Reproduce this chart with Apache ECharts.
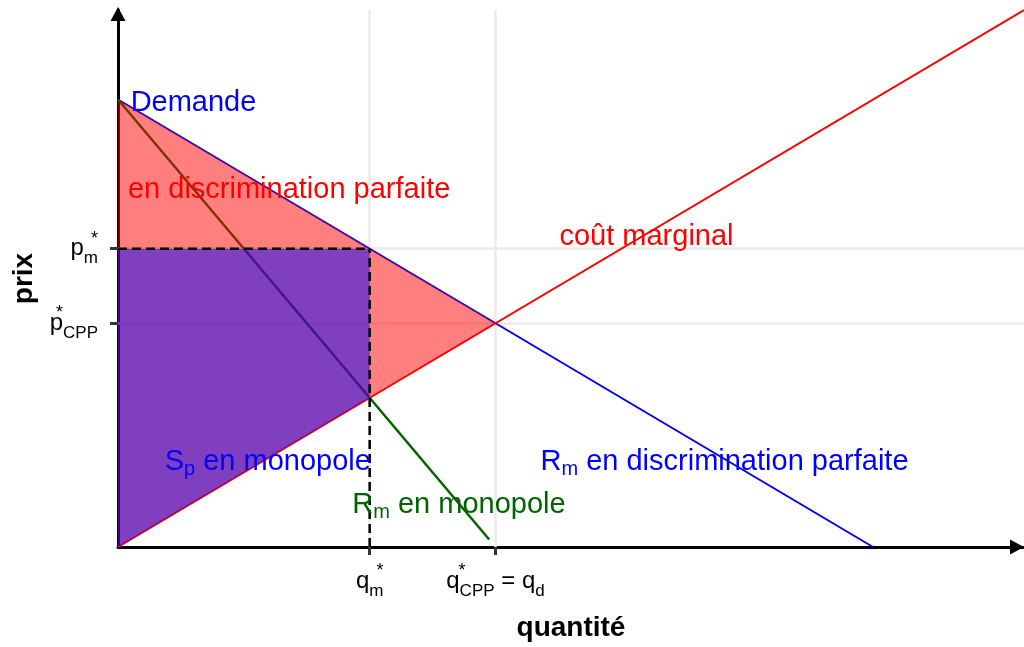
<!DOCTYPE html>
<html>
<head>
<meta charset="utf-8">
<title>Monopole et discrimination parfaite</title>
<script src="https://cdn.jsdelivr.net/npm/echarts@6/dist/echarts.min.js"></script>
<style>
    html, body { margin: 0; padding: 0; background: #fff; }
    #chart { width: 1024px; height: 647px; }
</style>
</head>
<body>
<div id="chart"></div>
<script>
// Data
// ------------------------------

// Curves (quantity, price)
var demandCurve = [[0, 6], [6, 0]];
var costCurve = [[0, 0], [7.2, 7.2]];
var revenueCurve = [[0, 6], [2.95, 0.1]];

// Shaded areas
var perfectArea = [[0, 6], [3, 3], [0, 0]];
var monopolyArea = [[0, 0], [0, 4], [2, 4], [2, 2]];

// Dashed guides at the monopoly point
var guideH = [[0, 4], [2, 4]];
var guideV = [[2, 0], [2, 4]];

// Ticks and their labels
var xTicks = [2, 3];
var xTickLabels = ['{b|q}{sub|m}{supR|*}', '{b|q}{sup| *}{sub|CPP}{b| = q}{sub|d}'];
var yTicks = [3, 4];
var yTickLabels = ['{b|p}{sup| *}{sub|CPP}', '{b|p}{sub|m}{supR|*}'];

// Annotations
var noteText = [
    'Demande',
    'en discrimination parfaite',
    'coût marginal',
    '{a|S}{s|p}{a| en monopole}',
    '{a|R}{s|m}{a| en discrimination parfaite}',
    '{a|R}{s|m}{a| en monopole}'
];
var notePos = [[0.6, 6.0], [1.36, 4.83], [4.2, 4.2], [1.19, 1.18], [4.82, 1.18], [2.71, 0.6]];
var noteColor = ['#0000ff', '#ff0000', '#ff0000', '#0000ff', '#0000ff', '#006400'];


var FONT = '"Liberation Sans", Arial, Helvetica, sans-serif';

var tickRich = {
    b: { fontSize: 24, fontFamily: FONT, color: '#000' },
    sub: { fontSize: 17, fontFamily: FONT, color: '#000', padding: [20, 0, 0, 0] },
    sup: { fontSize: 18, fontFamily: FONT, color: '#000', width: 0, padding: [0, 0, 20, 0] },
    supR: { fontSize: 18, fontFamily: FONT, color: '#000', width: 0, align: 'right', padding: [0, 0, 20, 0] }
};

function polygonSeries(points, color, z) {
    return {
        type: 'custom',
        silent: true,
        z: z,
        data: points,
        renderItem: function(params, api) {
            if (params.dataIndex !== 0) return;
            var pts = points.map(function(p) { return api.coord(p); });
            return {
                type: 'polygon',
                shape: { points: pts },
                style: { fill: color }
            };
        }
    };
}

function lineSeries(data, color, width, type, z) {
    return {
        type: 'line',
        data: data,
        symbol: 'none',
        silent: true,
        z: z,
        lineStyle: { color: color, width: width, type: type || 'solid' }
    };
}

var gridMarks = xTicks.map(function(v) { return { xAxis: v }; })
    .concat(yTicks.map(function(v) { return { yAxis: v }; }));

var chart = echarts.init(document.getElementById('chart'));

chart.setOption({
    animation: false,
    textStyle: { fontFamily: FONT },

    grid: { left: 118, right: 0, top: 10, bottom: 99 },

    xAxis: {
        type: 'value',
        min: 0,
        max: 7.2,
        name: 'quantité',
        nameLocation: 'middle',
        nameGap: 67,
        nameTextStyle: { fontSize: 28, fontWeight: 'bold', color: '#000', fontFamily: FONT },
        axisLine: {
            show: true,
            symbol: ['none', 'triangle'],
            symbolSize: [15, 14],
            symbolOffset: [0, -7],
            lineStyle: { color: '#000', width: 3 }
        },
        axisTick: { show: true, customValues: xTicks, length: 8, lineStyle: { color: '#333', width: 3 } },
        axisLabel: {
            customValues: xTicks,
            margin: 15,
            formatter: function(v) { return xTickLabels[xTicks.indexOf(v)] || ''; },
            rich: tickRich
        },
        splitLine: { show: false }
    },

    yAxis: {
        type: 'value',
        min: 0,
        max: 7.2,
        name: 'prix',
        nameLocation: 'middle',
        nameGap: 80,
        nameTextStyle: { fontSize: 28, fontWeight: 'bold', color: '#000', fontFamily: FONT },
        axisLine: {
            show: true,
            symbol: ['none', 'triangle'],
            symbolSize: [15, 14],
            symbolOffset: [0, -4],
            lineStyle: { color: '#000', width: 3 }
        },
        axisTick: { show: true, customValues: yTicks, length: 8, lineStyle: { color: '#333', width: 3 } },
        axisLabel: {
            customValues: yTicks,
            margin: 20,
            formatter: function(v) { return yTickLabels[yTicks.indexOf(v)] || ''; },
            rich: tickRich
        },
        splitLine: { show: false }
    },

    series: [
        // Light grid at the tick positions
        {
            type: 'line',
            data: [],
            z: 1,
            silent: true,
            markLine: {
                silent: true,
                z: 1,
                symbol: 'none',
                label: { show: false },
                lineStyle: { color: '#ebebeb', width: 2.5, type: 'solid' },
                data: gridMarks
            }
        },

        // Curves
        lineSeries(demandCurve, '#0000ff', 2, 'solid', 2),
        lineSeries(costCurve, '#ff0000', 2, 'solid', 2),
        lineSeries(revenueCurve, '#006400', 2.5, 'solid', 2),

        // Shaded surpluses
        polygonSeries(perfectArea, 'rgba(255,0,0,0.5)', 3),
        polygonSeries(monopolyArea, 'rgba(0,0,255,0.5)', 4),

        // Dashed guides
        lineSeries(guideH, '#000', 2.5, [9, 5], 5),
        lineSeries(guideV, '#000', 2.5, [9, 5], 5),

        // Annotations
        {
            type: 'scatter',
            symbolSize: 0,
            silent: true,
            z: 6,
            itemStyle: { opacity: 1 },
            data: notePos.map(function(p, i) {
                return {
                    value: p,
                    label: {
                        show: true,
                        position: 'inside',
                        offset: [0, 3],
                        formatter: noteText[i],
                        fontSize: 29,
                        fontFamily: FONT,
                        color: noteColor[i],
                        opacity: 1,
                        rich: {
                            a: { fontSize: 29, fontFamily: FONT, color: noteColor[i] },
                            s: { fontSize: 20, fontFamily: FONT, color: noteColor[i], padding: [14, 0, 0, 0] }
                        }
                    }
                };
            })
        }
    ]
});
</script>
</body>
</html>
